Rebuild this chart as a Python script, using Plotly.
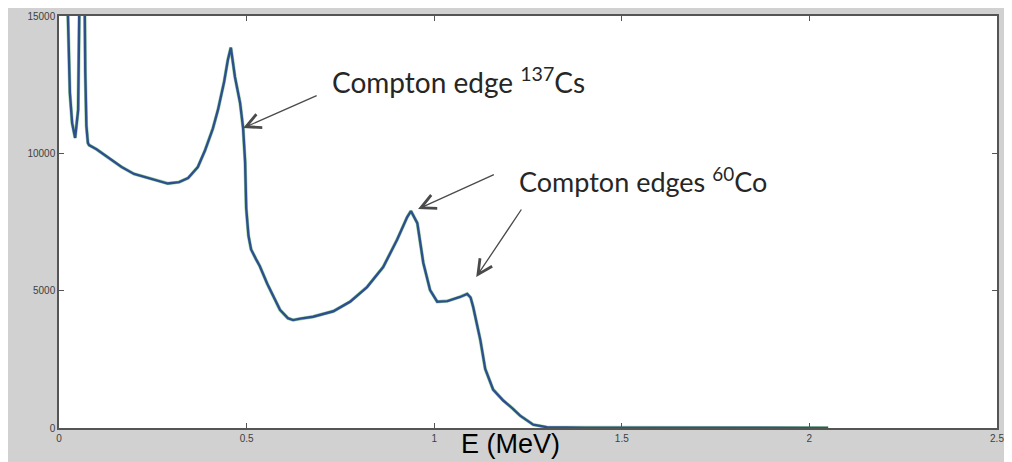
import plotly.graph_objects as go

# Spectrum (E in MeV, counts)
energy = [0.022, 0.025, 0.029, 0.035, 0.043, 0.051, 0.056, 0.0625, 0.070, 0.073, 0.077,
          0.08, 0.10, 0.13, 0.167, 0.20, 0.256, 0.29, 0.32, 0.344, 0.37, 0.389, 0.41,
          0.424, 0.44, 0.45, 0.458, 0.462, 0.469, 0.4827, 0.4907, 0.496, 0.499, 0.505,
          0.512, 0.525, 0.535, 0.555, 0.575, 0.589, 0.61, 0.624, 0.643, 0.677, 0.731,
          0.776, 0.821, 0.864, 0.901, 0.928, 0.938, 0.955, 0.971, 0.989, 1.008, 1.035,
          1.069, 1.088, 1.097, 1.104, 1.123, 1.136, 1.157, 1.184, 1.21, 1.229, 1.264,
          1.30, 1.40, 1.60, 1.80, 2.05]
counts = [16000, 14610, 12200, 11100, 10560, 11580, 14610, 25000, 13000, 11000, 10380,
          10300, 10150, 9850, 9500, 9250, 9030, 8900, 8950, 9100, 9500, 10100, 10900,
          11600, 12600, 13400, 13850, 13500, 12780, 11830, 10920, 9700, 8000, 7000,
          6500, 6150, 5900, 5250, 4700, 4300, 4000, 3930, 3980, 4050, 4250,
          4600, 5130, 5860, 6850, 7680, 7900, 7460, 6010, 5020, 4600, 4620,
          4770, 4880, 4750, 4400, 3200, 2150, 1400, 1000, 700, 450, 120,
          30, 15, 10, 8, 5]

x_ticks = [0, 0.5, 1, 1.5, 2, 2.5]
x_tick_labels = ["0", "0.5", "1", "1.5", "2", "2.5"]
y_ticks = [0, 5000, 10000, 15000]
y_tick_labels = ["0", "5000", "10000", "15000"]

fig = go.Figure()
fig.add_trace(go.Scatter(x=energy, y=counts, mode="lines",
                         line=dict(color="#9fd69f", width=3.5), hoverinfo="skip",
                         showlegend=False))
fig.add_trace(go.Scatter(x=energy, y=counts, mode="lines",
                         line=dict(color="#2e4e8e", width=2.4), showlegend=False))

# figure is placed at (8, 8) in the page by the default body margin
W, H = 1004, 454
L, R, T, B = 51, 989, 8, 420
ph = B - T

def py(yp):
    return (B - yp) / ph

arrow_style = dict(showarrow=True, arrowhead=5, arrowsize=2.2, arrowwidth=1.3,
                   arrowcolor="#4a4a4a", axref="x", ayref="y", text="")
fig.add_annotation(x=0.4907, y=10920, ax=0.6907, ay=12124, **arrow_style)
fig.add_annotation(x=0.957, y=7973, ax=1.163, ay=9248, **arrow_style)
fig.add_annotation(x=1.112, y=5498, ax=1.235, ay=8010, **arrow_style)

txt_font = dict(family="Lato, Carlito, sans-serif", size=28, color="#262626")
fig.add_annotation(x=0.723, y=12670, text="Compton edge <sup>137</sup>Cs",
                   showarrow=False, xanchor="left", yanchor="middle", font=txt_font)
fig.add_annotation(x=1.221, y=9030, text="Compton edges <sup>60</sup>Co",
                   showarrow=False, xanchor="left", yanchor="middle",
                   font=dict(family="Lato, Carlito, sans-serif", size=27, color="#262626"))

fig.add_annotation(x=1.2027, xref="x", y=py(436), yref="paper", text="E (MeV)",
                   showarrow=False, xanchor="center", yanchor="middle",
                   font=dict(family="Liberation Sans, Arial", size=27, color="black"))

axis_common = dict(showgrid=False, zeroline=False, showline=True, linecolor="#555555",
                   linewidth=1.5, mirror="ticks", ticks="inside", ticklen=5,
                   tickwidth=1, tickcolor="#555555", automargin=False,
                   tickfont=dict(family="Liberation Sans, Arial", size=10, color="#404040"))

fig.update_xaxes(range=[0, 2.5], tickvals=x_ticks, ticktext=x_tick_labels, **axis_common)
fig.update_yaxes(range=[0, 15000], tickvals=y_ticks, ticktext=y_tick_labels, **axis_common)

fig.update_layout(width=W, height=H, margin=dict(l=L, r=W - R, t=T, b=H - B, pad=0,
                                                 autoexpand=False),
                  paper_bgcolor="#d1d1d1", plot_bgcolor="white", showlegend=False)

fig.write_html("out.html")
